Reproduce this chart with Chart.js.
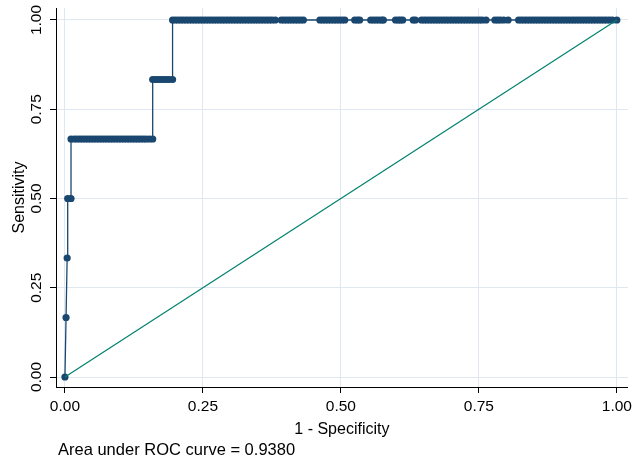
<!DOCTYPE html>
<html>
<head>
<meta charset="utf-8">
<script src="https://cdn.jsdelivr.net/npm/chart.js@4.4.1/dist/chart.umd.min.js"></script>
<style>
  html, body { margin: 0; padding: 0; background: #fff; }
  #wrap { position: relative; width: 636px; height: 461px; }
</style>
</head>
<body>
<div id="wrap"><canvas id="rocChart" width="636" height="461"></canvas></div>
<script>
// sensitivity levels of the ROC steps (6 positives)
const sensLevels = [0, 0.1667, 0.3333, 0.5, 0.6667, 0.8333, 1]
// 1 - specificity values of the points on each level
const fprL0 = [0]
const fprL1 = [0.002]
const fprL2 = [0.004]
const fprL3 = [0.005, 0.011]
const fprL4 = [0.011, 0.017, 0.022, 0.027, 0.032, 0.037, 0.042, 0.047, 0.052, 0.057, 0.062, 0.067, 0.072, 0.077, 0.082, 0.087, 0.092, 0.097, 0.102, 0.107, 0.112, 0.117, 0.122, 0.127, 0.132, 0.137, 0.142, 0.147, 0.153, 0.159]
const fprL5 = [0.159, 0.164, 0.169, 0.174, 0.179, 0.184, 0.189, 0.195]
const fprL6 = [0.195, 0.200, 0.205, 0.210, 0.215, 0.220, 0.225, 0.230, 0.235, 0.240, 0.245, 0.250, 0.255, 0.260, 0.265, 0.270, 0.275, 0.280, 0.285, 0.290, 0.295, 0.300, 0.305, 0.310, 0.315, 0.320, 0.325, 0.330, 0.335, 0.340, 0.345, 0.350, 0.355, 0.360, 0.365, 0.370, 0.375, 0.381,
  0.392, 0.397, 0.402, 0.407, 0.412, 0.417, 0.422, 0.427, 0.432,
  0.462, 0.467, 0.472, 0.477, 0.482, 0.487, 0.492, 0.497, 0.502, 0.507,
  0.525, 0.530, 0.534,
  0.554, 0.559, 0.564, 0.569, 0.574, 0.577,
  0.599, 0.604, 0.608, 0.612,
  0.631, 0.635,
  0.646, 0.651, 0.656, 0.661, 0.666, 0.671, 0.676, 0.681, 0.686, 0.691, 0.696, 0.701, 0.706, 0.711, 0.716, 0.721, 0.726, 0.731, 0.736, 0.741, 0.746, 0.751, 0.756, 0.763,
  0.779, 0.784, 0.789, 0.795, 0.803,
  0.822, 0.827, 0.832, 0.837, 0.842, 0.847, 0.852, 0.857, 0.862, 0.867, 0.872, 0.877, 0.882, 0.887, 0.892, 0.897, 0.902, 0.907, 0.912, 0.917, 0.922, 0.927, 0.932, 0.937, 0.942, 0.947, 0.952, 0.957, 0.962, 0.967, 0.972, 0.977, 0.982, 0.987, 0.992, 1.000]
const fprByLevel = [fprL0, fprL1, fprL2, fprL3, fprL4, fprL5, fprL6]
// reference line and axis ticks
const refX = [0, 1]
const refY = [0, 1]
const tickValues = [0, 0.25, 0.5, 0.75, 1]
const aucText = "Area under ROC curve = 0.9380"

const navy = '#1a476f'
const teal = '#00806e'
const gridCol = '#dfe7f0'
const fontFam = '"Liberation Sans", Arial, sans-serif'

//build the points of the curve
const rocPoints = []
fprByLevel.forEach((xs, i) => {
    xs.forEach(x => rocPoints.push({x: x, y: sensLevels[i]}))
})
const refPoints = refX.map((x, i) => ({x: x, y: refY[i]}))

//note under the chart
const footNote = {
    id: 'footNote',
    afterDraw(chart) {
        const ctx = chart.ctx
        ctx.save()
        ctx.font = `16.5px ${fontFam}`
        ctx.fillStyle = '#000'
        ctx.textBaseline = 'middle'
        ctx.textAlign = 'left'
        ctx.fillText(aucText, 58, 450)
        ctx.restore()
    }
}

const fixTicks = (scale) => { scale.ticks = tickValues.map(v => ({value: v})) }

new Chart("rocChart", {
    type: 'scatter',
    data: {
        datasets: [{
            data: rocPoints,
            showLine: true,
            borderColor: navy,
            backgroundColor: navy,
            borderWidth: 1.3,
            pointRadius: 3.6,
            pointBorderWidth: 0,
            order: 2
        }, {
            data: refPoints,
            showLine: true,
            borderColor: teal,
            borderWidth: 1.2,
            pointRadius: 0,
            order: 1
        }]
    },
    options: {
        responsive: false,
        animation: false,
        layout: {padding: {left: 0, right: 4, top: 8, bottom: 22}},
        plugins: {
            legend: {display: false},
            tooltip: {enabled: false}
        },
        scales: {
            x: {
                type: 'linear',
                min: -0.0162,
                max: 1.0198,
                afterBuildTicks: fixTicks,
                afterFit: (s) => { s.height = 52 },
                grid: {color: gridCol, tickColor: '#000', tickLength: 6, lineWidth: 1},
                border: {display: true, color: '#000', width: 1},
                ticks: {
                    color: '#000', padding: 4,
                    font: {family: fontFam, size: 15.5},
                    maxRotation: 0, minRotation: 0,
                    callback: (v) => v.toFixed(2)
                },
                title: {
                    display: true, text: '1 - Specificity', color: '#000',
                    font: {family: fontFam, size: 16},
                    padding: {top: 0, bottom: 0}
                }
            },
            y: {
                type: 'linear',
                min: -0.028,
                max: 1.0336,
                afterBuildTicks: fixTicks,
                afterFit: (s) => { s.width = 56 },
                grid: {color: gridCol, tickColor: '#000', tickLength: 6, lineWidth: 1},
                border: {display: true, color: '#000', width: 1},
                ticks: {
                    color: '#000', padding: -2,
                    font: {family: fontFam, size: 15.5},
                    minRotation: 90, maxRotation: 90,
                    crossAlign: 'center',
                    callback: (v) => v.toFixed(2)
                },
                title: {
                    display: true, text: 'Sensitivity', color: '#000',
                    font: {family: fontFam, size: 16},
                    padding: {top: 10, bottom: 0}
                }
            }
        }
    },
    plugins: [footNote]
})
</script>
</body>
</html>
